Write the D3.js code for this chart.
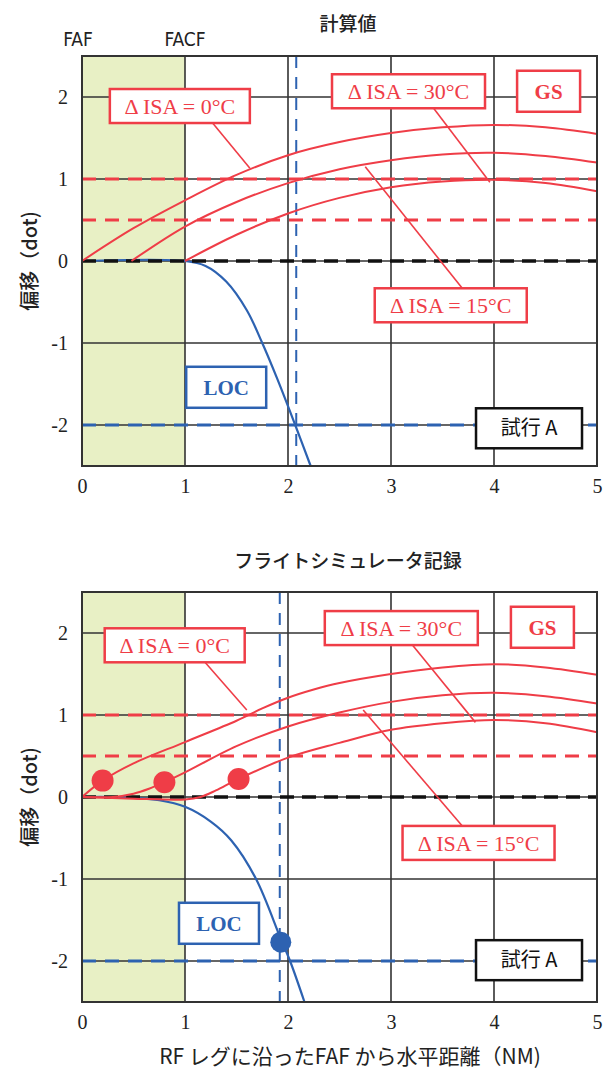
<!DOCTYPE html>
<html lang="ja">
<head>
<meta charset="UTF-8">
<title>計算値 / フライトシミュレータ記録</title>
<script src="https://cdn.jsdelivr.net/npm/d3@7"></script>
<style>
  body { margin: 0; background: #fff; }
  svg { display: block; }
</style>
</head>
<body>
<script>
// ---- data ------------------------------------------------------------
var xTicks = [0, 1, 2, 3, 4, 5];
var yTicks = [-2, -1, 0, 1, 2];
var gsDashLevels = [1, 0.5];     // GS limits (red dashed)
var zeroLevel = 0;               // centre line (black dashed)
var locDashLevel = -2;           // LOC limit (blue dashed)
var facfX = 1;                   // FAF..FACF shaded zone

// 計算値
var calcIsa0  = [[0,0],[0.5,0.4],[1,0.74],[1.5,1.05],[2,1.29],[2.5,1.45],[3,1.56],[3.5,1.63],[4,1.66],[4.5,1.63],[5,1.55]];
var calcIsa15 = [[0.48,0],[1,0.42],[1.5,0.72],[2,0.95],[2.5,1.12],[3,1.23],[3.5,1.3],[4,1.32],[4.5,1.28],[5,1.2]];
var calcIsa30 = [[1,0],[1.5,0.32],[2,0.58],[2.5,0.77],[3,0.9],[3.5,0.97],[4,0.99],[4.5,0.95],[5,0.85]];
var calcLoc   = [[0,0],[1,0],[1.2,-0.06],[1.4,-0.25],[1.6,-0.6],[1.75,-1],[1.9,-1.45],[2.07,-2],[2.22,-2.5]];
var calcLimitX = 2.08;

// フライトシミュレータ記録
var simIsa0  = [[0,0],[0.2,0.2],[0.5,0.41],[1,0.67],[1.5,0.93],[1.75,1.08],[2,1.21],[2.25,1.31],[2.5,1.39],[3,1.5],[3.5,1.58],[4,1.62],[4.5,1.58],[5,1.49]];
var simIsa15 = [[0,0],[0.3,0],[0.5,0.04],[0.65,0.1],[0.8,0.18],[1,0.3],[1.5,0.62],[2,0.86],[2.5,1.03],[3,1.16],[3.5,1.24],[4,1.27],[4.5,1.23],[5,1.14]];
var simIsa30 = [[0,0],[0.5,-0.02],[1,-0.03],[1.15,0],[1.3,0.08],[1.52,0.22],[2,0.48],[2.5,0.66],[3,0.82],[3.5,0.9],[4,0.94],[4.5,0.9],[5,0.79]];
var simLoc   = [[0,0],[0.3,0],[0.5,-0.01],[0.75,-0.04],[1,-0.12],[1.25,-0.3],[1.45,-0.53],[1.69,-1],[1.93,-1.73],[2.02,-2],[2.16,-2.5]];
var simLimitX = 1.92;
var simGsDots  = [[0.2,0.2],[0.8,0.18],[1.52,0.22]];
var simLocDots = [[1.93,-1.77]];

// ---- drawing ---------------------------------------------------------
var width = 603, height = 1070;
var RED = "#ef3d47", BLUE = "#2d62b1", GRID = "#333";
var SERIF = "'Liberation Serif','Times New Roman',serif";
var SANS = "'Noto Sans CJK JP','Noto Sans',sans-serif";

var svg = d3.select("body").append("svg")
    .attr("width", width)
    .attr("height", height);

var x = d3.scaleLinear().domain([0, 5]).range([82, 597]);

function drawPanel(cfg) {
    var y = d3.scaleLinear().domain([-2.5, 2.5]).range([cfg.bottom, cfg.top]);
    var g = svg.append("g");
    var line = d3.line().x(function (d) { return x(d[0]); }).y(function (d) { return y(d[1]); })
        .curve(d3.curveCatmullRom.alpha(0.5));

    // shaded FAF - FACF
    g.append("rect")
        .attr("x", x(0)).attr("y", y(2.5))
        .attr("width", x(facfX) - x(0)).attr("height", y(-2.5) - y(2.5))
        .attr("fill", "#e8f0c5");

    // grid
    g.selectAll(".vg").data(xTicks.slice(1, -1)).enter().append("line")
        .attr("x1", x).attr("x2", x).attr("y1", y(2.5)).attr("y2", y(-2.5))
        .attr("stroke", GRID).attr("stroke-width", 1.6);
    g.selectAll(".hg").data(yTicks).enter().append("line")
        .attr("x1", x(0)).attr("x2", x(5)).attr("y1", y).attr("y2", y)
        .attr("stroke", GRID).attr("stroke-width", 1.6);

    // limit lines
    g.selectAll(".gsd").data(gsDashLevels).enter().append("line")
        .attr("x1", x(0)).attr("x2", x(5)).attr("y1", y).attr("y2", y)
        .attr("stroke", RED).attr("stroke-width", 3).attr("stroke-dasharray", "14 9");
    g.append("line")
        .attr("x1", x(0)).attr("x2", x(5)).attr("y1", y(locDashLevel)).attr("y2", y(locDashLevel))
        .attr("stroke", BLUE).attr("stroke-width", 3).attr("stroke-dasharray", "14 9");
    g.append("line")
        .attr("x1", x(cfg.limitX)).attr("x2", x(cfg.limitX)).attr("y1", y(2.5)).attr("y2", y(-2.5))
        .attr("stroke", BLUE).attr("stroke-width", 2).attr("stroke-dasharray", "12 9");

    // LOC curve, then centre line
    g.append("path").attr("d", line(cfg.loc))
        .attr("fill", "none").attr("stroke", BLUE).attr("stroke-width", 2.2);
    g.append("line")
        .attr("x1", x(0)).attr("x2", x(5)).attr("y1", y(zeroLevel)).attr("y2", y(zeroLevel))
        .attr("stroke", "#111").attr("stroke-width", 3.5).attr("stroke-dasharray", "14 8");

    // GS curves
    g.selectAll(".gs").data(cfg.gs).enter().append("path")
        .attr("d", line)
        .attr("fill", "none").attr("stroke", RED).attr("stroke-width", 2);

    // pointers
    g.selectAll(".ptr").data(cfg.pointers).enter().append("line")
        .attr("x1", function (d) { return x(d[0][0]); }).attr("y1", function (d) { return y(d[0][1]); })
        .attr("x2", function (d) { return x(d[1][0]); }).attr("y2", function (d) { return y(d[1][1]); })
        .attr("stroke", RED).attr("stroke-width", 1.6);

    // label boxes
    var lab = g.selectAll(".lab").data(cfg.labels).enter().append("g")
        .attr("transform", function (d) { return "translate(" + x(d.x) + "," + y(d.y) + ")"; });
    lab.append("rect")
        .attr("x", function (d) { return -d.w / 2; }).attr("y", function (d) { return -d.h / 2; })
        .attr("width", function (d) { return d.w; }).attr("height", function (d) { return d.h; })
        .attr("fill", "#fff").attr("stroke", function (d) { return d.color; }).attr("stroke-width", 2.5);
    lab.append("text")
        .attr("text-anchor", "middle").attr("dy", "0.35em")
        .attr("fill", function (d) { return d.color === RED || d.color === BLUE ? d.color : "#111"; })
        .style("font-family", function (d) { return d.sans ? SANS : SERIF; })
        .style("font-size", function (d) { return d.size + "px"; })
        .style("font-weight", function (d) { return d.bold ? "bold" : "normal"; })
        .text(function (d) { return d.text; });

    // simulator record dots
    g.selectAll(".gdot").data(cfg.gsDots || []).enter().append("circle")
        .attr("cx", function (d) { return x(d[0]); }).attr("cy", function (d) { return y(d[1]); })
        .attr("r", 11).attr("fill", RED);
    g.selectAll(".ldot").data(cfg.locDots || []).enter().append("circle")
        .attr("cx", function (d) { return x(d[0]); }).attr("cy", function (d) { return y(d[1]); })
        .attr("r", 10.5).attr("fill", BLUE);

    // frame
    g.append("rect")
        .attr("x", x(0)).attr("y", y(2.5))
        .attr("width", x(5) - x(0)).attr("height", y(-2.5) - y(2.5))
        .attr("fill", "none").attr("stroke", GRID).attr("stroke-width", 2);

    // axes
    var ya = g.append("g").attr("transform", "translate(" + x(0) + ",0)")
        .call(d3.axisLeft(y).tickValues(yTicks).tickSize(0).tickPadding(14)
            .tickFormat(function (d) { return String(d); }));
    var xa = g.append("g").attr("transform", "translate(0," + y(-2.5) + ")")
        .call(d3.axisBottom(x).tickValues(xTicks).tickSize(0).tickPadding(13)
            .tickFormat(function (d) { return String(d); }));
    [ya, xa].forEach(function (a) {
        a.select(".domain").remove();
        a.selectAll("text").style("font-family", SERIF).style("font-size", "20px").attr("fill", "#222");
    });

    // y title
    g.append("text")
        .attr("transform", "translate(30," + y(0) + ") rotate(-90)")
        .attr("text-anchor", "middle").attr("dy", "0.35em")
        .style("font-family", SANS).style("font-size", "20px").style("font-weight", "500").attr("fill", "#222")
        .text("偏移（dot)");

    // panel title
    g.append("text")
        .attr("x", 348).attr("y", cfg.titleY)
        .attr("text-anchor", "middle")
        .style("font-family", SANS).style("font-size", "19px").style("font-weight", "500").attr("fill", "#222")
        .text(cfg.title);
    return y;
}

function gsLabels(p) {
    return [
        {text: "Δ ISA = 0°C",  x: p[0][0], y: p[0][1], w: 140, h: 34, color: RED, size: 22},
        {text: "Δ ISA = 30°C", x: p[1][0], y: p[1][1], w: 153, h: 34, color: RED, size: 22},
        {text: "GS",           x: p[2][0], y: p[2][1], w: 63,  h: 41, color: RED, size: 21, bold: true},
        {text: "Δ ISA = 15°C", x: p[3][0], y: p[3][1], w: 152, h: 34, color: RED, size: 22},
        {text: "LOC",          x: p[4][0], y: p[4][1], w: 80,  h: 41, color: BLUE, size: 21, bold: true},
        {text: "試行 A",       x: p[5][0], y: p[5][1], w: 106, h: 40, color: "#111", size: 20, sans: true}
    ];
}

drawPanel({
    top: 56, bottom: 466, titleY: 31, title: "計算値",
    limitX: calcLimitX,
    loc: calcLoc,
    gs: [calcIsa0, calcIsa15, calcIsa30],
    pointers: [[[1.27, 1.68], [1.63, 1.13]], [[3.41, 1.87], [3.96, 0.96]], [[3.69, -0.33], [2.75, 1.15]]],
    labels: gsLabels([[0.95, 1.89], [3.17, 2.07], [4.53, 2.07], [3.58, -0.54], [1.40, -1.54], [4.34, -2.04]])
});

drawPanel({
    top: 592, bottom: 1002, titleY: 568, title: "フライトシミュレータ記録",
    limitX: simLimitX,
    loc: simLoc,
    gs: [simIsa0, simIsa15, simIsa30],
    gsDots: simGsDots,
    locDots: simLocDots,
    pointers: [[[1.19, 1.65], [1.60, 1.06]], [[3.21, 1.85], [3.82, 0.91]], [[3.69, -0.35], [2.73, 1.06]]],
    labels: gsLabels([[0.90, 1.85], [3.10, 2.06], [4.47, 2.07], [3.85, -0.56], [1.33, -1.54], [4.34, -1.99]])
});

// FAF / FACF markers
svg.selectAll(".fix").data([["FAF", 0], ["FACF", facfX]]).enter().append("text")
    .attr("x", function (d) { return x(d[1]) - (d[1] === 0 ? 4 : 0); }).attr("y", 46)
    .attr("text-anchor", "middle")
    .style("font-family", "'Liberation Sans Narrow','DejaVu Sans Condensed',sans-serif")
    .style("font-size", "19px").attr("fill", "#222")
    .text(function (d) { return d[0]; });

// x title
svg.append("text")
    .attr("x", 350).attr("y", 1064)
    .attr("text-anchor", "middle")
    .style("font-family", SANS).style("font-size", "21px").attr("fill", "#222")
    .text("RF レグに沿ったFAF から水平距離（NM)");
</script>
</body>
</html>
